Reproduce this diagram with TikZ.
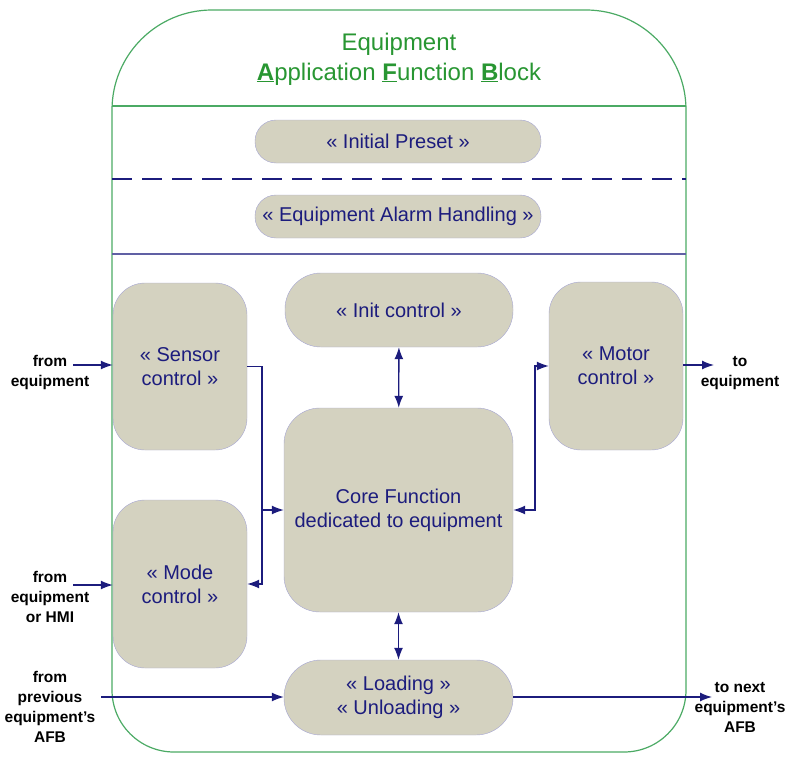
\documentclass[tikz,border=0pt]{standalone}
\usepackage{fontspec}
\setmainfont{Liberation Sans}
\usepackage{tikz}
\usetikzlibrary{arrows.meta,positioning,shapes}
\definecolor{boxfill}{RGB}{212,210,192}
\definecolor{boxline}{RGB}{165,165,210}
\definecolor{navy}{RGB}{28,28,125}
\definecolor{titlegreen}{RGB}{40,150,50}
\definecolor{framegreen}{RGB}{75,170,100}

\begin{document}
\begin{tikzpicture}[x=1pt,y=-1pt,
    blk/.style={draw=boxline,fill=boxfill,text=navy,align=center,inner sep=0pt,
      font=\fontsize{20}{24}\selectfont},
    lbl/.style={align=center,font=\fontsize{15.5}{20}\selectfont\bfseries},
    arr/.style={draw=navy,line width=1.3pt,-{Latex[length=12pt,width=9pt]}},
    arrs/.style={draw=navy,line width=1.3pt,{Latex[length=12pt,width=9pt]}-{Latex[length=12pt,width=9pt]}}]
      \useasboundingbox (0,0) rectangle (789,760);
      % outer frame
      \draw[framegreen,line width=1.2pt] (112,400) [rounded corners=100pt] |- (399,10) -| (686,400)
        [rounded corners=62pt] |- (399,752) -| (112,400);
      \node[text=titlegreen,align=center,font=\fontsize{24}{30}\selectfont] (title) at (399,59)
        {Equipment\\ \underline{\textbf{A}}pplication \underline{\textbf{F}}unction \underline{\textbf{B}}lock};
      \draw[framegreen,line width=1.2pt] (112,106) -- (686,106);
      \draw[navy,line width=1.5pt,dash pattern=on 20pt off 10pt] (112,179) -- (686,179);
      \draw[navy!70,line width=1.2pt] (112,254) -- (686,254);
      % blocks
      \node[blk,rounded corners=21pt,minimum width=286pt,minimum height=43pt] (preset) at (398,141.5) {« Initial Preset »};
      \node[blk,rounded corners=21pt,minimum width=286pt,minimum height=43pt] (alarm) at (398,216.5) {« Equipment Alarm Handling »};
      \node[blk,rounded corners=32pt,minimum width=134pt,minimum height=167pt] (sensor) at (180,366.5) {« Sensor\\control »};
      \node[blk,rounded corners=32pt,minimum width=134pt,minimum height=168pt] (mode) at (180,584) {« Mode\\control »};
      \node[blk,rounded corners=36pt,minimum width=228pt,minimum height=74pt] (init) at (399,310) {« Init control »};
      \node[blk,rounded corners=36pt,minimum width=229pt,minimum height=204pt] (core) at (398.5,510) {Core Function\\dedicated to equipment};
      \node[blk,rounded corners=32pt,minimum width=134pt,minimum height=168pt] (motor) at (616,366) {« Motor\\control »};
      \node[blk,rounded corners=37pt,minimum width=229pt,minimum height=75pt] (load) at (398.5,697.5) {« Loading »\\« Unloading »};
      % outside labels
      \node[lbl] (fromeq) at (50,372) {from\\equipment};
      \node[lbl] (fromhmi) at (50,597) {from\\equipment\\or HMI};
      \node[lbl] (fromprev) at (50,707) {from\\previous\\equipment's\\AFB};
      \node[lbl] (toeq) at (740,373) {to\\equipment};
      \node[lbl] (tonext) at (740,707) {to next\\equipment's\\AFB};
      \coordinate (inS) at (73,365);
      \coordinate (inM) at (73,585);
      \coordinate (inL) at (101,697);
      \coordinate (outM) at (714,365);
      \coordinate (outL) at (712,697);
      \coordinate (sbus) at (262,510);
      \coordinate (mbus) at (535,510);
      % connectors
      \draw[arr] (inS) -- (inS -| sensor.west);
      \draw[arr] (inM) -- (inM -| mode.west);
      \draw[arr] (inL) -- (inL -| load.west);
      \draw[arr] (sensor.east) -| (sbus) |- (mode.east);
      \draw[arr] (sbus) -- (core.west);
      \draw[arrs] (init) -- (core);
      \draw[arrs] (core) -- (load);
      \draw[arrs] (core.east) -- (mbus) |- (motor.west);
      \draw[arr] (outM -| motor.east) -- (outM);
      \draw[arr] (outL -| load.east) -- (outL);
    \end{tikzpicture}
\end{document}
